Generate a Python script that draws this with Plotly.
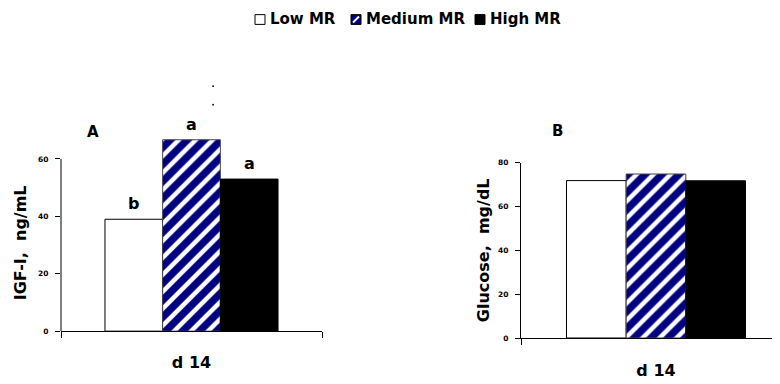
import plotly.graph_objects as go

# ---- data ----
categories = ["d 14"]
series = ["Low MR", "Medium MR", "High MR"]
igf_values = [39.0, 66.7, 53.0]
glucose_values = [71.8, 74.8, 71.7]
igf_letters = ["b", "a", "a"]
igf_ticks = [0, 20, 40, 60]
glucose_ticks = [0, 20, 40, 60, 80]

# page body has an 8px margin: figure is offset by 8px on screen
OFF = 8
W, H = 780 - OFF, 384 - OFF
BARGAP = 0.337

def px_x(p):
    return (p - OFF) / W

def px_y(p):
    return 1 - (p - OFF) / H

fills = ["white", "white", "black"]
patterns = [dict(shape=""),
            dict(shape="/", fgcolor="#000080", bgcolor="white", fgopacity=1,
                 solidity=0.62, size=12, fillmode="replace"),
            dict(shape="")]
lines = ["black", "#444444", "black"]

fig = go.Figure()
for i, name in enumerate(series):
    fig.add_trace(go.Bar(
        x=categories, y=[igf_values[i]], name=name, legendgroup=name,
        marker=dict(color=fills[i], pattern=patterns[i], line=dict(color=lines[i], width=1)),
        xaxis="x", yaxis="y", showlegend=False))
for i, name in enumerate(series):
    fig.add_trace(go.Bar(
        x=categories, y=[glucose_values[i]], name=name, legendgroup=name,
        marker=dict(color=fills[i], pattern=patterns[i], line=dict(color=lines[i], width=1)),
        xaxis="x2", yaxis="y2", showlegend=False))

font_family = "DejaVu Sans"
tickfont = dict(family=font_family, size=7.5, color="black", weight="bold")
catfont = dict(family=font_family, size=16, color="black", weight="bold")

fig.update_layout(
    width=W, height=H,
    margin=dict(l=0, r=0, t=0, b=0),
    paper_bgcolor="white", plot_bgcolor="white",
    barmode="group", bargap=BARGAP, bargroupgap=0,
    font=dict(family=font_family, color="black"),
    showlegend=False,
    xaxis=dict(domain=[px_x(61), px_x(322)], anchor="y", type="category",
               range=[-0.5, 0.5], showline=True, linecolor="black", linewidth=1,
               ticks="outside", tickson="boundaries", ticklen=6, tickcolor="black",
               tickfont=catfont, ticklabelstandoff=17, showgrid=False, zeroline=False),
    yaxis=dict(domain=[px_y(335), px_y(335 - 70 * 2.94)], anchor="x", range=[0, 70],
               tickvals=igf_ticks, showline=False, ticks="outside", ticklen=5,
               tickcolor="black", tickfont=tickfont, ticklabelstandoff=5,
               showgrid=False, zeroline=False),
    xaxis2=dict(domain=[px_x(521), 1], anchor="y2", type="category",
                range=[-0.5, -0.5 + (780 - 521) / 270.0], showline=True, linecolor="black",
                linewidth=1, ticks="outside", tickson="boundaries", ticklen=6,
                tickcolor="black", tickfont=catfont, ticklabelstandoff=18,
                showgrid=False, zeroline=False),
    yaxis2=dict(domain=[px_y(342), px_y(162.3)], anchor="x2", range=[0, 80],
                tickvals=glucose_ticks, showline=True, linecolor="black", linewidth=1,
                ticks="outside", ticklen=5, tickcolor="black", tickfont=tickfont,
                ticklabelstandoff=5, showgrid=False, zeroline=False),
)

# y-axis line of panel A stops at the 60 tick
fig.add_shape(type="line", xref="x domain", yref="y", x0=0, x1=0, y0=0, y1=igf_ticks[-1],
              line=dict(color="black", width=1))

# significance letters above bars
bw = (1 - BARGAP) / len(series)
for i, lt in enumerate(igf_letters):
    fig.add_annotation(x=(i - 1) * bw, y=igf_values[i], xref="x", yref="y", text=lt,
                       showarrow=False, xanchor="center", yanchor="bottom", yshift=4,
                       font=dict(family=font_family, size=16, color="black", weight="bold"))

def label(x, y, text, font, angle=0, xanchor="center"):
    fig.add_annotation(x=px_x(x), y=px_y(y), xref="paper", yref="paper", text=text,
                       textangle=angle, showarrow=False, xanchor=xanchor, yanchor="middle",
                       font=font)

title_font = dict(family=font_family, size=16, color="black", weight="bold")
label(20, 245, "IGF-I,  ng/mL", title_font, angle=-90)
label(483, 252, "Glucose,  mg/dL", title_font, angle=-90)
panel_font = dict(family=font_family, size=15, color="black", weight="bold")
label(93, 131, "A", panel_font)
label(557, 130, "B", panel_font)

# two stray dots above panel A
for yy in (84, 103):
    fig.add_shape(type="circle", xref="paper", yref="paper",
                  x0=px_x(212.2), x1=px_x(214), y0=px_y(yy + 0.9), y1=px_y(yy - 0.9),
                  fillcolor="black", line=dict(width=0))

# legend (drawn as key boxes + text)
leg_font = dict(family=font_family, size=15, color="black", weight="bold")
box_x = [255, 351, 475]
text_x = [268, 364, 488]
box_fill = ["white", "#000080", "black"]
by0, by1 = 10.7, 20.7
for i, name in enumerate(series):
    fig.add_shape(type="rect", xref="paper", yref="paper",
                  x0=px_x(box_x[i]), x1=px_x(box_x[i] + 10), y0=px_y(by1), y1=px_y(by0),
                  fillcolor=box_fill[i], line=dict(color="black", width=1))
    if i == 1:
        fig.add_shape(type="line", xref="paper", yref="paper",
                      x0=px_x(box_x[i] + 2), x1=px_x(box_x[i] + 8),
                      y0=px_y(by1 - 2), y1=px_y(by0 + 2),
                      line=dict(color="white", width=2))
    label(text_x[i], 15.5, name, leg_font, xanchor="left")

fig.write_html("out.html")
